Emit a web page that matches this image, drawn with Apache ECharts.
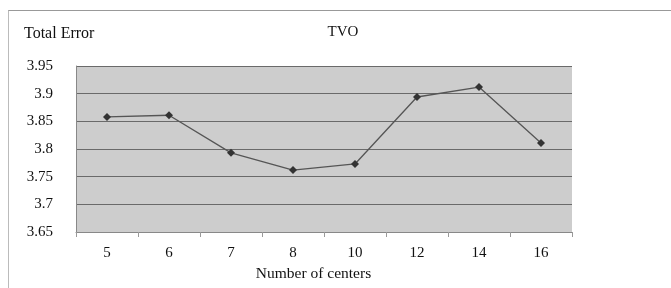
<!DOCTYPE html>
<html>
<head>
<meta charset="utf-8">
<script src="https://cdn.jsdelivr.net/npm/echarts@6/dist/echarts.min.js"></script>
<style>
html, body { margin: 0; padding: 0; background: #fff; }
#wrap { position: absolute; left: 8px; top: 10px; width: 663px; height: 278px; border-top: 1px solid #999; border-left: 1px solid #bbb; }
#chart { position: absolute; left: 0; top: 0; width: 671px; height: 288px; }
</style>
</head>
<body>
<div id="wrap"></div>
<div id="chart"></div>
<script>
var centers = ['5', '6', '7', '8', '10', '12', '14', '16'];
var totalError = [3.858, 3.861, 3.793, 3.762, 3.773, 3.894, 3.912, 3.811];
var yTicks = [3.65, 3.7, 3.75, 3.8, 3.85, 3.9, 3.95];

var myChart = echarts.init(document.getElementById('chart'));
var font = 'Liberation Serif';
var option = {
    animation: false,
    title: {
        text: 'TVO',
        left: 338,
        top: 20,
        textAlign: 'center',
        textStyle: { fontFamily: font, fontSize: 15, fontWeight: 'normal', color: '#111' }
    },
    grid: { left: 76, right: 99, top: 66, bottom: 56 },
    xAxis: {
        type: 'category',
        data: centers,
        boundaryGap: true,
        name: 'Number of centers',
        nameLocation: 'middle',
        nameGap: 31,
        nameTextStyle: { fontFamily: font, fontSize: 15.5, color: '#111', padding: [0, 21, 0, 0] },
        axisLine: { lineStyle: { color: '#888' } },
        axisTick: { show: true, lineStyle: { color: '#999' } },
        axisLabel: { fontFamily: font, fontSize: 15, color: '#111', margin: 14 }
    },
    yAxis: {
        type: 'value',
        min: yTicks[0],
        max: yTicks[yTicks.length - 1],
        interval: 0.05,
        name: 'Total Error',
        nameLocation: 'end',
        nameGap: 24,
        nameTextStyle: { fontFamily: font, fontSize: 16, color: '#111', align: 'left', padding: [0, 0, 0, -52] },
        axisLine: { show: true, lineStyle: { color: '#888' } },
        axisTick: { show: false },
        axisLabel: {
            fontFamily: font, fontSize: 15, color: '#111', margin: 23,
            formatter: function (v) { return String(+v.toFixed(2)); }
        },
        splitLine: { show: true, lineStyle: { color: '#6a6a6a', width: 1 } },
        splitArea: { show: false }
    },
    series: [
        {
            name: 'Total Error',
            type: 'line',
            data: totalError,
            symbol: 'diamond',
            symbolSize: 8,
            itemStyle: { color: '#333' },
            lineStyle: { color: '#555', width: 1.3 }
        }
    ]
};
myChart.setOption(option);

// plot-area background (gray mottled in the scan)
myChart.setOption({
    graphic: [{
        type: 'rect',
        z: -10,
        shape: { x: 76, y: 66, width: 671 - 76 - 99, height: 288 - 66 - 56 },
        style: { fill: '#cdcdcd' }
    }]
});
</script>
</body>
</html>
